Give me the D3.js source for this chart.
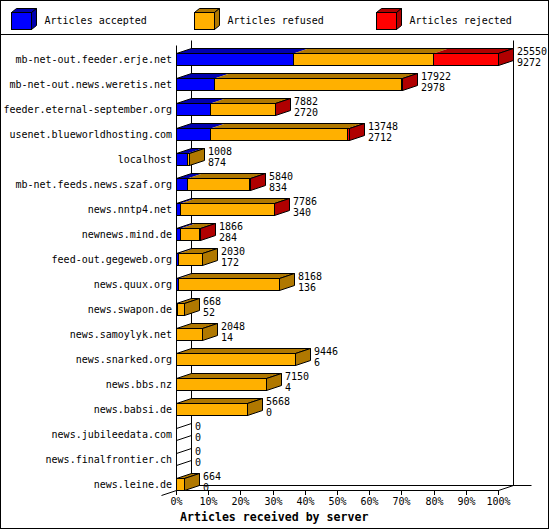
<!DOCTYPE html>
<html><head><meta charset="utf-8">
<script src="https://cdn.jsdelivr.net/npm/d3@7"></script>
<style>
body{margin:0;background:#fff}
svg{display:block;background:#fff}
text{font-family:"DejaVu Sans Mono",monospace;fill:#000}
</style>
</head><body>
<svg id="c" width="550" height="530"></svg>
<script>
const categories = [
  "mb-net-out.feeder.erje.net",
  "mb-net-out.news.weretis.net",
  "feeder.eternal-september.org",
  "usenet.blueworldhosting.com",
  "localhost",
  "mb-net.feeds.news.szaf.org",
  "news.nntp4.net",
  "newnews.mind.de",
  "feed-out.gegeweb.org",
  "news.quux.org",
  "news.swapon.de",
  "news.samoylyk.net",
  "news.snarked.org",
  "news.bbs.nz",
  "news.babsi.de",
  "news.jubileedata.com",
  "news.finalfrontier.ch",
  "news.leine.de"
];
const totals   = [25550, 17922, 7882, 13748, 1008, 5840, 7786, 1866, 2030, 8168, 668, 2048, 9446, 7150, 5668, 0, 0, 664];
const accepted = [9272, 2978, 2720, 2712, 874, 834, 340, 284, 172, 136, 52, 14, 6, 4, 0, 0, 0, 0];
const refused  = [11113, 14904, 5132, 10886, 134, 4986, 7431, 1572, 1858, 8032, 616, 2034, 9440, 7146, 5668, 0, 0, 664];
const rejected = [5165, 40, 30, 150, 0, 20, 15, 10, 0, 0, 0, 0, 0, 0, 0, 0, 0, 0];
const seriesNames = ["Articles accepted", "Articles refused", "Articles rejected"];
const seriesColors = ["#0000ff", "#ffb000", "#ff0000"];
const seriesDark = ["#0000b0", "#b07800", "#b00000"];
const tickValues = [0, 10, 20, 30, 40, 50, 60, 70, 80, 90, 100];
const axisTitle = "Articles received by server";

const svg = d3.select("#c");
const W = 550, H = 530;
const X0 = 176, X1 = 498, DX = 15, DY = 5, BH = 12;
const TOP = 40, FLOOR = 490;
const maxTotal = d3.max(totals);
const x = d3.scaleLinear().domain([0, 100]).range([X0, X1]).interpolate(d3.interpolateRound);
const xv = v => x(v / maxTotal * 100);
const y = d3.scaleBand().domain(categories).range([53, 53 + 25 * categories.length]);
const series = [accepted, refused, rejected];

// outer border and legend separator
const g = svg.append("g").attr("transform", "translate(0.5,0.5)");
g.append("rect").attr("x", 0).attr("y", 0).attr("width", W - 2).attr("height", H - 2)
  .attr("fill", "none").attr("stroke", "#000");
g.append("line").attr("x1", 0).attr("x2", W - 2).attr("y1", 34).attr("y2", 34).attr("stroke", "#000");

// legend
seriesNames.forEach((name, i) => {
  const lx = Math.round(11 + i * 182.5), ly = 12, lw = 20, lh = 17, ldx = 5, ldy = 4;
  g.append("polygon")
    .attr("points", [[lx, ly], [lx + ldx, ly - ldy], [lx + lw + ldx, ly - ldy], [lx + lw, ly]].join(" "))
    .attr("fill", seriesDark[i]).attr("stroke", "#000");
  g.append("polygon")
    .attr("points", [[lx + lw, ly], [lx + lw + ldx, ly - ldy], [lx + lw + ldx, ly + lh - ldy], [lx + lw, ly + lh]].join(" "))
    .attr("fill", seriesDark[i]).attr("stroke", "#000");
  g.append("rect").attr("x", lx).attr("y", ly).attr("width", lw).attr("height", lh)
    .attr("fill", seriesColors[i]).attr("stroke", "#000");
  svg.append("text").attr("x", lx + 33.5).attr("y", 20).attr("dy", "0.35em")
    .attr("font-size", "10px").text(name);
});

// frame (back wall, right wall, floor)
const frame = [
  [X0 + DX, TOP, X0 + DX, FLOOR - DY],
  [X1 + DX, TOP, X1 + DX, FLOOR - DY],
  [X0 + DX, FLOOR - DY, 531, FLOOR - DY],
  [X0, FLOOR, X1, FLOOR],
  [X1, FLOOR, X1 + DX, FLOOR - DY],
  [X0 - DX, FLOOR + DY, X0, FLOOR]
];
g.selectAll("line.frame").data(frame).join("line").attr("class", "frame")
  .attr("x1", d => d[0]).attr("y1", d => d[1]).attr("x2", d => d[2]).attr("y2", d => d[3])
  .attr("stroke", "#000");

// bars
categories.forEach((c, i) => {
  const ft = y(c);
  let cum = 0, lastIdx = -1;
  const segs = [];
  series.forEach((s, k) => {
    const v = s[i];
    if (v > 0) {
      segs.push({k, x0: xv(cum), x1: xv(cum + v)});
      lastIdx = k;
    }
    cum += v;
  });
  const xe = xv(totals[i]);
  if (segs.length === 0) {
    g.append("line").attr("x1", X0).attr("y1", ft).attr("x2", X0 + DX).attr("y2", ft - DY).attr("stroke", "#000");
    g.append("line").attr("x1", X0).attr("y1", ft + BH).attr("x2", X0 + DX).attr("y2", ft + BH - DY).attr("stroke", "#000");
    return;
  }
  segs.forEach(s => {
    g.append("polygon")
      .attr("points", [[s.x0, ft], [s.x0 + DX, ft - DY], [s.x1 + DX, ft - DY], [s.x1, ft]].join(" "))
      .attr("fill", seriesDark[s.k]).attr("stroke", "none");
  });
  g.append("polygon")
    .attr("points", [[X0, ft], [X0 + DX, ft - DY], [xe + DX, ft - DY], [xe, ft]].join(" "))
    .attr("fill", "none").attr("stroke", "#000");
  g.append("polygon")
    .attr("points", [[xe, ft], [xe + DX, ft - DY], [xe + DX, ft + BH - DY], [xe, ft + BH]].join(" "))
    .attr("fill", seriesDark[lastIdx]).attr("stroke", "#000");
  segs.forEach(s => {
    g.append("rect").attr("x", s.x0).attr("y", ft).attr("width", Math.max(0, s.x1 - s.x0)).attr("height", BH)
      .attr("fill", seriesColors[s.k]).attr("stroke", "#000");
  });
});

// front axis line
g.append("line").attr("x1", X0).attr("y1", TOP + DY).attr("x2", X0).attr("y2", FLOOR).attr("stroke", "#000");

// category labels and value labels
categories.forEach((c, i) => {
  const ft = y(c);
  svg.append("text").attr("x", 172).attr("y", ft + 6.5).attr("dy", "0.35em")
    .attr("text-anchor", "end").attr("font-size", "10px").text(c);
  const tx = xv(totals[i]) + DX + 4;
  svg.append("text").attr("x", tx).attr("y", ft + 1.5).attr("font-size", "10px").text(totals[i]);
  svg.append("text").attr("x", tx).attr("y", ft + 12.5).attr("font-size", "10px").text(accepted[i]);
});

// x axis
const ax = svg.append("g").attr("transform", `translate(0,${FLOOR})`)
  .call(d3.axisBottom(x).tickValues(tickValues).tickSize(5).tickPadding(3).tickFormat(d => d + "%"));
ax.select(".domain").remove();
ax.attr("font-family", null).attr("font-size", null);
ax.selectAll("text").attr("font-size", "10px").attr("fill", "#000");
ax.selectAll("line").attr("stroke", "#000");

svg.append("text").attr("x", 180).attr("y", 517).attr("dy", "0.35em")
  .attr("font-size", "11.6px").attr("font-weight", "bold").text(axisTitle);
</script>
</body></html>
